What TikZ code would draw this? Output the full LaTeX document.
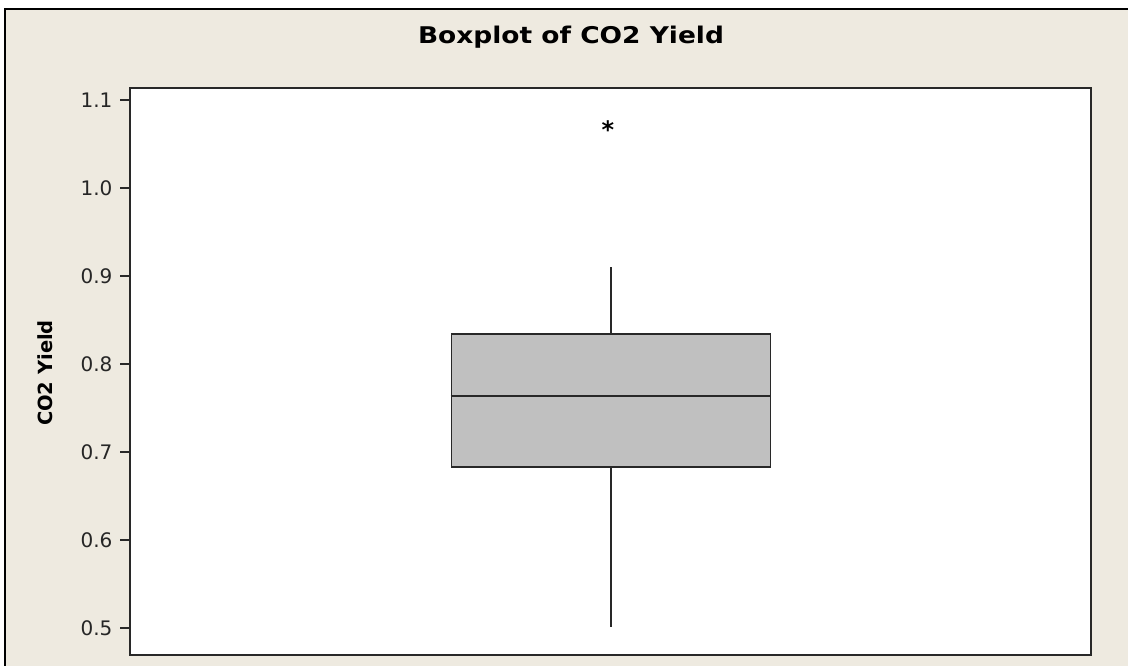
\documentclass[tikz,border=0pt]{standalone}
\usepackage{fontspec}
\setmainfont{DejaVu Sans}
\usepackage{tikz}

\definecolor{panel}{RGB}{238,234,224}
\definecolor{boxgray}{RGB}{192,192,192}
\definecolor{edge}{RGB}{40,40,40}

\tikzset{
  ticklabel/.style={anchor=east, inner sep=0pt, text=black!85, font=\fontsize{20}{22}\selectfont},
  tickmark/.style={edge, line width=1.2pt},
  whisker/.style={edge, line width=1.6pt}
}

\begin{document}
\begin{tikzpicture}[x=1pt,y=-1pt]
        \useasboundingbox (0,0) rectangle (1128,665);

        % Draw the panel and the data region
        \fill[white] (0,0) rectangle (1128,665);
        \draw[black, line width=2pt, fill=panel] (5,9) rectangle (1140,680);
        \draw[edge, line width=1.8pt, fill=white] (130,88) rectangle (1091,655);

        % Title and axis label
        \node[font=\bfseries\fontsize{23}{26}\selectfont, xscale=1.15] (title) at (571,37) {Boxplot of CO2 Yield};
        \node[font=\bfseries\fontsize{19.5}{22}\selectfont, rotate=90] (ylabel) at (45,373) {CO2 Yield};

        % Ticks on the vertical axis
        \foreach \v/\y [count=\i] in {0.5/628,0.6/540,0.7/452,0.8/364,0.9/276,1.0/188,1.1/100} {
          \coordinate (tick\i) at (130,\y);
          \draw[tickmark] (tick\i) -- ++(-10,0) node[ticklabel, xshift=-7pt] (lab\i) {\v};
        }

        % The box with its median
        \node[draw=edge, line width=1.8pt, fill=boxgray, minimum width=319pt, minimum height=133pt,
              inner sep=0pt] (box) at (611,400.5) {};
        \coordinate (med) at (611,396);
        \draw[whisker] (box.west |- med) -- (box.east |- med);

        % Whiskers
        \coordinate (uw) at (611,267);
        \coordinate (lw) at (611,627);
        \draw[whisker] (box.north) -- (uw);
        \draw[whisker] (box.south) -- (lw);

        % Outlier
        \node[font=\bfseries\fontsize{24}{24}\selectfont, inner sep=0pt] (outlier) at (608,130) {*};
\end{tikzpicture}
\end{document}
